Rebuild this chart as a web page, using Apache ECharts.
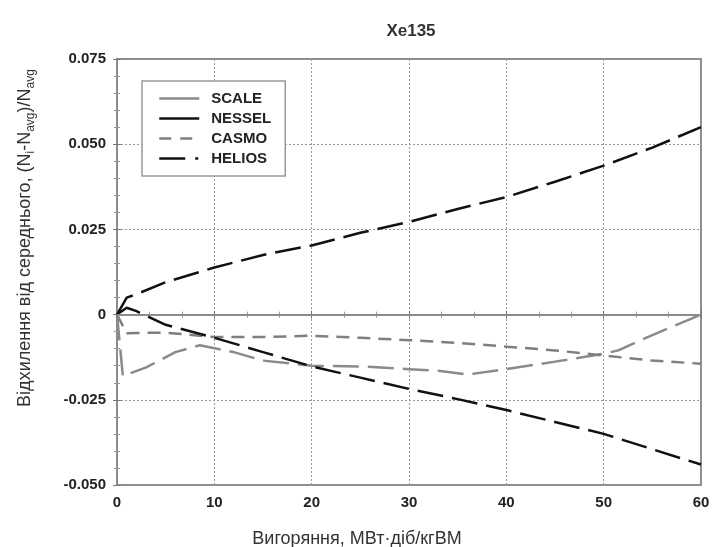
<!DOCTYPE html>
<html>
<head>
<meta charset="utf-8">
<script src="https://cdn.jsdelivr.net/npm/echarts@6/dist/echarts.min.js"></script>
<style>
  html, body { margin: 0; padding: 0; background: #fff; }
  #main { width: 715px; height: 547px; }
</style>
</head>
<body>
<div id="main"></div>
<script>
// burnup, MW*d/kgHM
var burnup = [0, 1, 2, 5, 10, 15, 20, 25, 30, 35, 40, 45, 50, 55, 60];
var nessel = [0, 0.005, 0.006, 0.0095, 0.0138, 0.0175, 0.0203, 0.024, 0.0272, 0.031, 0.0345, 0.039, 0.0437, 0.049, 0.055];
var helios = [0, 0.002, 0.001, -0.003, -0.0068, -0.011, -0.0152, -0.0185, -0.0218, -0.0248, -0.028, -0.0315, -0.035, -0.0395, -0.044];
var casmo  = [0, -0.0055, -0.0054, -0.0053, -0.0066, -0.0066, -0.0062, -0.0068, -0.0075, -0.0083, -0.0094, -0.0105, -0.012, -0.0135, -0.0144];

var scaleX = [0, 0.6, 3, 6, 8.5, 12, 15, 20, 25, 30, 33, 36, 40, 45, 50, 51.5, 55, 60];
var scaleY = [0, -0.018, -0.0155, -0.011, -0.009, -0.011, -0.0135, -0.015, -0.0152, -0.016, -0.0165, -0.0176, -0.016, -0.0138, -0.0115, -0.0105, -0.006, 0.0];

var yTicks = [-0.05, -0.025, 0, 0.025, 0.05, 0.075];

function pairs(xs, ys) {
  return xs.map(function (x, i) { return [x, ys[i]]; });
}

var font = 'Liberation Sans, Arial, sans-serif';
var frameColor = '#8c8c8c';
var chart = echarts.init(document.getElementById('main'));

var axisLine = { show: true, lineStyle: { color: frameColor, width: 2 } };
var axisTick = { show: true, inside: true, length: 4, lineStyle: { color: '#777' } };

var option = {
  backgroundColor: '#fff',
  animation: false,
  title: {
    text: 'Xe135',
    left: 406,
    textAlign: 'center',
    top: 18,
    textStyle: { fontFamily: font, fontSize: 17, fontWeight: 'bold', color: '#333' }
  },
  legend: {
    orient: 'vertical',
    left: 142,
    top: 81,
    padding: [10, 14, 10, 16],
    backgroundColor: '#fff',
    borderColor: '#999',
    borderWidth: 1.5,
    borderRadius: 0,
    itemWidth: 40,
    itemHeight: 14,
    itemGap: 5,
    itemStyle: { opacity: 0, borderWidth: 0 },
    textStyle: { fontFamily: font, fontSize: 15, fontWeight: 'bold', color: '#222', padding: [0, 0, 0, 7] },
    data: [
      { name: 'SCALE', lineStyle: { type: 'solid', color: '#8a8a8a', width: 2.5 } },
      { name: 'NESSEL', lineStyle: { type: 'solid', color: '#111', width: 2.5 } },
      { name: 'CASMO', lineStyle: { type: [12, 9], color: '#7f7f7f', width: 2.5 } },
      { name: 'HELIOS', lineStyle: { type: [26, 10, 3, 10], color: '#111', width: 2.5 } }
    ]
  },
  grid: {
    left: 117, right: 14, top: 59, bottom: 62,
    containLabel: false, outerBoundsMode: 'none',
    show: true, borderColor: frameColor, borderWidth: 2, backgroundColor: '#fff'
  },
  xAxis: [
    {
      type: 'value', min: 0, max: 60, interval: 10,
      axisLine: axisLine, axisTick: axisTick,
      minorTick: { show: true, splitNumber: 3, length: 3, lineStyle: { color: '#999' } },
      axisLabel: { fontFamily: font, fontSize: 15, fontWeight: 'bold', color: '#222', margin: 10 },
      splitLine: { show: true, lineStyle: { type: [2, 2], color: '#999', width: 1 } },
      name: 'Вигоряння, МВт·діб/кгВМ',
      nameLocation: 'middle',
      nameGap: 45,
      nameTextStyle: { fontFamily: font, fontSize: 18, color: '#333', padding: [0, 104, 0, 0] }
    },
    {
      type: 'value', min: 0, max: 60, interval: 10, position: 'top',
      axisLine: axisLine, axisTick: axisTick,
      minorTick: { show: true, splitNumber: 3, length: 3, lineStyle: { color: '#999' } },
      axisLabel: { show: false }, splitLine: { show: false }
    }
  ],
  yAxis: [
    {
      type: 'value', min: -0.05, max: 0.075, interval: 0.025,
      axisLine: axisLine, axisTick: axisTick,
      minorTick: { show: true, splitNumber: 5, length: 3, lineStyle: { color: '#999' } },
      axisLabel: {
        fontFamily: font, fontSize: 15, fontWeight: 'bold', color: '#222', margin: 11,
        formatter: function (v) {
          var t = yTicks.filter(function (k) { return Math.abs(k - v) < 1e-9; })[0];
          if (t === undefined) return '';
          return t === 0 ? '0' : t.toFixed(3);
        }
      },
      splitLine: { show: true, lineStyle: { type: [2, 2], color: '#999', width: 1 } },
      name: '{n|Відхилення від середнього, (N}{s|i}{n|-N}{s|avg}{n|)/N}{s|avg}',
      nameLocation: 'middle',
      nameGap: 80,
      nameRotate: 90,
      nameTextStyle: {
        fontFamily: font, color: '#333',
        padding: [0, 0, 0, 68],
        rich: {
          n: { fontFamily: font, fontSize: 18, color: '#333', lineHeight: 24, verticalAlign: 'middle' },
          s: { fontFamily: font, fontSize: 12, color: '#333', lineHeight: 24, verticalAlign: 'bottom', padding: [10, 0, 0, 0] }
        }
      }
    },
    {
      type: 'value', min: -0.05, max: 0.075, interval: 0.025, position: 'right',
      axisLine: axisLine, axisTick: axisTick,
      minorTick: { show: true, splitNumber: 5, length: 3, lineStyle: { color: '#999' } },
      axisLabel: { show: false }, splitLine: { show: false }
    }
  ],
  series: [
    {
      name: 'SCALE', type: 'line', showSymbol: false, symbol: 'none',
      lineStyle: { color: '#8a8a8a', width: 2.5, type: [26, 9] },
      itemStyle: { color: '#8a8a8a' },
      data: pairs(scaleX, scaleY),
      z: 3,
      markLine: {
        silent: true, symbol: 'none', label: { show: false },
        lineStyle: { color: '#8c8c8c', width: 2, type: 'solid' },
        data: [{ yAxis: 0 }]
      }
    },
    {
      name: 'NESSEL', type: 'line', showSymbol: false, symbol: 'none',
      lineStyle: { color: '#111', width: 2.5, type: [26, 9] },
      itemStyle: { color: '#111' },
      data: pairs(burnup, nessel), z: 4
    },
    {
      name: 'CASMO', type: 'line', showSymbol: false, symbol: 'none',
      lineStyle: { color: '#7f7f7f', width: 2.5, type: [13, 8] },
      itemStyle: { color: '#7f7f7f' },
      data: pairs(burnup, casmo), z: 3
    },
    {
      name: 'HELIOS', type: 'line', showSymbol: false, symbol: 'none',
      lineStyle: { color: '#111', width: 2.5, type: [26, 9] },
      itemStyle: { color: '#111' },
      data: pairs(burnup, helios), z: 4
    }
  ]
};
chart.setOption(option);
</script>
</body>
</html>
